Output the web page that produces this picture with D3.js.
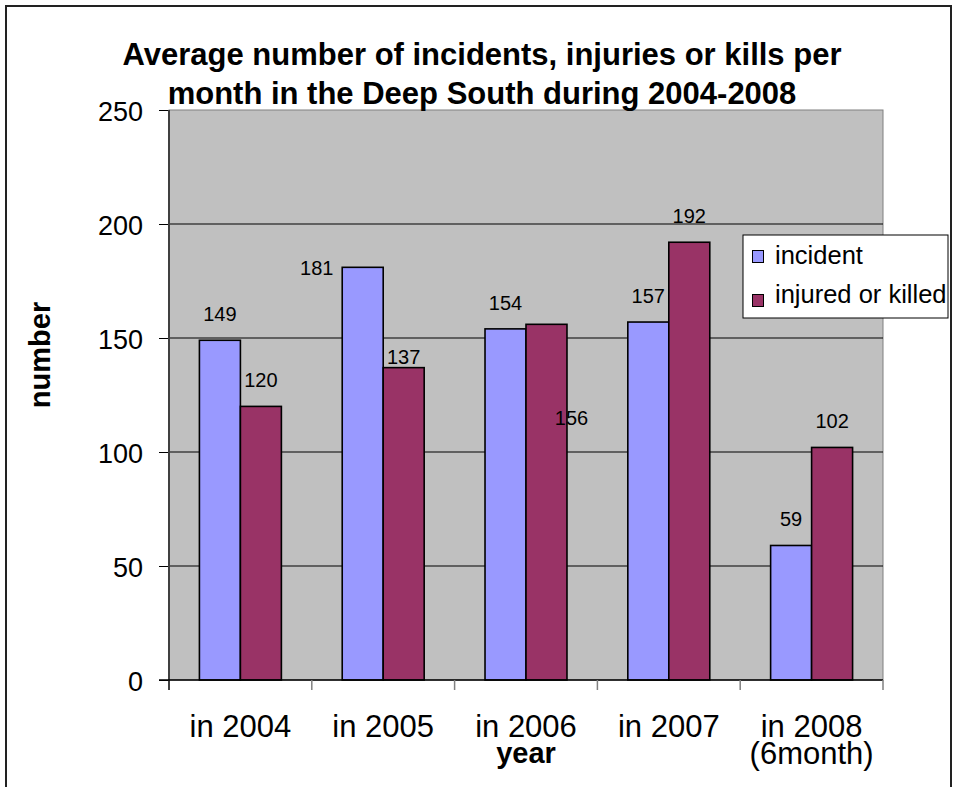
<!DOCTYPE html>
<html>
<head>
<meta charset="utf-8">
<script src="https://cdn.jsdelivr.net/npm/d3@7"></script>
<style>
  html, body { margin: 0; padding: 0; background: #fff; }
  svg { display: block; font-family: "Liberation Sans", Arial, sans-serif; }
</style>
</head>
<body>
<svg id="chart" width="956" height="787"></svg>
<script>
// ---- data ----
const categories = ["in 2004", "in 2005", "in 2006", "in 2007", "in 2008"];
const categoryLines = [["in 2004"], ["in 2005"], ["in 2006"], ["in 2007"], ["in 2008", "(6month)"]];
const seriesNames = ["incident", "injured or killed"];
const incident = [149, 181, 154, 157, 59];
const injuredOrKilled = [120, 137, 156, 192, 102];
const yTicks = [0, 50, 100, 150, 200, 250];
const titleLines = ["Average number of incidents, injuries or kills per", "month in the Deep South during 2004-2008"];
const xTitle = "year";
const yTitle = "number";

// ---- layout / style ----
const colors = ["#9999FF", "#993366"];
const plot = { left: 169, right: 883, top: 110, bottom: 680 };
// manual label nudges (dx, baseline offset from bar top) as in the original
const labelNudge = { "0-1": [-46, 8], "1-1": [0, -4], "1-2": [25, 101] };

const svg = d3.select("#chart");
const font = '"Liberation Sans", Arial, sans-serif';

// outer border
svg.append("rect").attr("x", 6).attr("y", 6).attr("width", 945).attr("height", 820)
  .attr("fill", "#fff").attr("stroke", "#222").attr("stroke-width", 2);

const x = d3.scaleBand().domain(categories).range([plot.left, plot.right]).padding(0);
const bw = x.bandwidth();
const gap = bw * 0.213;
const sub = d3.scaleBand().domain(d3.range(seriesNames.length)).range([gap, bw - gap]).padding(0);
const y = d3.scaleLinear().domain([0, 250]).range([plot.bottom, plot.top]);

// plot area
svg.append("rect").attr("x", plot.left).attr("y", plot.top)
  .attr("width", plot.right - plot.left).attr("height", plot.bottom - plot.top)
  .attr("fill", "#C0C0C0").attr("stroke", "#808080").attr("stroke-width", 1);

// gridlines
svg.append("g").selectAll("line").data(yTicks.filter(t => t > 0 && t < 250)).join("line")
  .attr("x1", plot.left).attr("x2", plot.right)
  .attr("y1", d => y(d)).attr("y2", d => y(d))
  .attr("stroke", "#000").attr("stroke-width", 1);

// bars
const allSeries = [incident, injuredOrKilled];
const barG = svg.append("g");
allSeries.forEach((vals, si) => {
  barG.selectAll(null).data(vals).join("rect")
    .attr("x", (d, i) => x(categories[i]) + sub(si))
    .attr("y", d => y(d))
    .attr("width", sub.bandwidth())
    .attr("height", d => y(0) - y(d))
    .attr("fill", colors[si])
    .attr("stroke", "#000").attr("stroke-width", 1.6);
});

// value labels
allSeries.forEach((vals, si) => {
  svg.append("g").selectAll("text").data(vals).join("text")
    .attr("x", (d, i) => {
      const n = labelNudge[si + "-" + i];
      return x(categories[i]) + sub(si) + sub.bandwidth() / 2 + (n ? n[0] : 0);
    })
    .attr("y", (d, i) => {
      const n = labelNudge[si + "-" + i];
      return y(d) + (n ? n[1] : -19);
    })
    .attr("text-anchor", "middle")
    .attr("font-size", 20).attr("fill", "#000")
    .text(d => d);
});

// y axis
const yAxis = svg.append("g").attr("transform", `translate(${plot.left},0)`)
  .call(d3.axisLeft(y).tickValues(yTicks).tickSize(10).tickPadding(16).tickFormat(d3.format("d")));
yAxis.select(".domain").remove();
yAxis.selectAll(".tick line").attr("stroke", "#000");
yAxis.selectAll(".tick text").attr("font-size", 27).attr("font-family", font).attr("fill", "#000").attr("dy", "0.38em");
svg.append("line").attr("x1", plot.left).attr("x2", plot.left)
  .attr("y1", plot.top).attr("y2", plot.bottom + 10)
  .attr("stroke", "#404040").attr("stroke-width", 2);

// x axis baseline and boundary ticks
svg.append("line").attr("x1", plot.left - 10).attr("x2", plot.right)
  .attr("y1", plot.bottom).attr("y2", plot.bottom)
  .attr("stroke", "#000").attr("stroke-width", 1.5);
const bounds = categories.map(c => x(c)).concat([plot.right]);
svg.append("g").selectAll("line").data(bounds.slice(1)).join("line")
  .attr("x1", d => d).attr("x2", d => d)
  .attr("y1", plot.bottom).attr("y2", plot.bottom + 10)
  .attr("stroke", "#808080").attr("stroke-width", 1.5);

// x category labels
const xl = svg.append("g").selectAll("text").data(categories).join("text")
  .attr("x", d => x(d) + bw / 2)
  .attr("y", 737)
  .attr("text-anchor", "middle")
  .attr("font-size", 31).attr("fill", "#000");
xl.each(function(d, i) {
  const t = d3.select(this);
  categoryLines[i].forEach((ln, k) => {
    t.append("tspan").attr("x", x(d) + bw / 2).attr("dy", k === 0 ? 0 : 27).text(ln);
  });
});

// axis titles
svg.append("text").attr("x", 526).attr("y", 763).attr("text-anchor", "middle")
  .attr("font-size", 29).attr("font-weight", "bold").text(xTitle);
svg.append("text").attr("transform", "translate(50,355) rotate(-90)")
  .attr("text-anchor", "middle").attr("font-size", 29).attr("font-weight", "bold").text(yTitle);

// title
svg.append("g").selectAll("text").data(titleLines).join("text")
  .attr("x", 482).attr("y", (d, i) => 65 + i * 39)
  .attr("text-anchor", "middle")
  .attr("font-size", 31).attr("font-weight", "bold").attr("fill", "#000")
  .text(d => d);

// legend
const lg = svg.append("g").attr("transform", "translate(743,235)");
lg.append("rect").attr("width", 205).attr("height", 83)
  .attr("fill", "#fff").attr("stroke", "#000").attr("stroke-width", 1);
seriesNames.forEach((s, i) => {
  lg.append("rect").attr("x", 9.5).attr("y", 15.5 + i * 44).attr("width", 11).attr("height", 12)
    .attr("fill", colors[i]).attr("stroke", "#000").attr("stroke-width", 1);
  lg.append("text").attr("x", 32).attr("y", 29 + i * 39)
    .attr("font-size", 25.5).attr("fill", "#000").text(s);
});
</script>
</body>
</html>
